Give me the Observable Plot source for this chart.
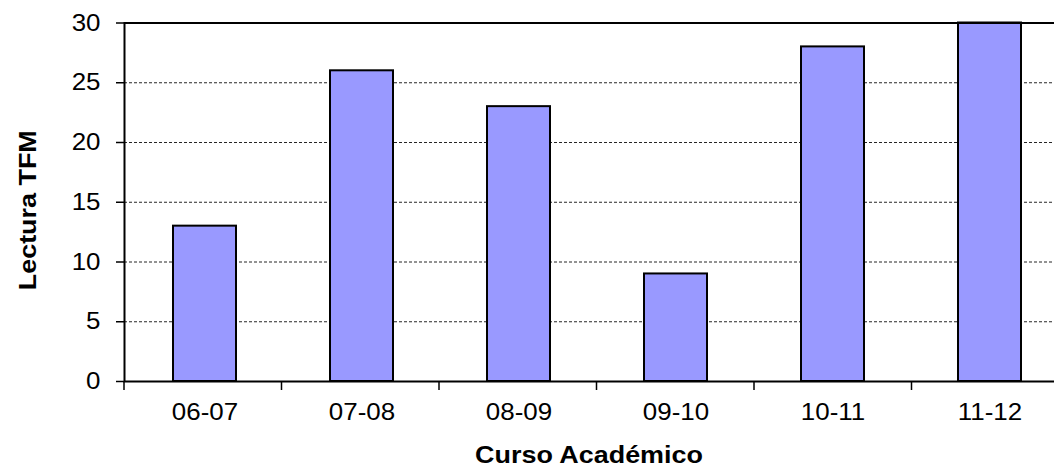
<!DOCTYPE html>
<html><head><meta charset="utf-8">
<script src="https://cdn.jsdelivr.net/npm/d3@7"></script>
<script src="https://cdn.jsdelivr.net/npm/@observablehq/plot@0.6"></script>
<style>
html,body{margin:0;padding:0;background:#fff;overflow:hidden;}
#chart{width:1054px;height:469px;overflow:hidden;}
#chart svg{max-width:none !important;display:block;}
</style></head><body>
<div id="chart"></div>
<script>
const categories = ["06-07", "07-08", "08-09", "09-10", "10-11", "11-12"];
const values = [13, 26, 23, 9, 28, 30];
const yTicks = [0, 5, 10, 15, 20, 25, 30];
const gridTicks = [5, 10, 15, 20, 25];
const xLabel = "Curso Académico";
const yLabel = "Lectura TFM";

const data = categories.map((c, i) => ({curso: c, lecturas: values[i]}));

const W = 1075, H = 469;
const M = {top: 22.5, right: 6, bottom: 88, left: 124};
const padIn = 0.6, padOut = 0.3;

// ticks at the category boundaries on the x axis
const boundaryTicks = (index, scales, vals, dims) => {
  const xs = d3.scaleBand().domain(categories)
    .range([dims.marginLeft, dims.width - dims.marginRight])
    .paddingInner(padIn).paddingOuter(padOut);
  const step = xs.step();
  const y0 = dims.height - dims.marginBottom;
  const g = d3.create("svg:g");
  const xsPos = categories.map(c => xs(c) - step * padIn / 2);
  xsPos.push(xs(categories[categories.length - 1]) + xs.bandwidth() + step * padIn / 2);
  g.selectAll("line").data(xsPos).join("line")
    .attr("x1", d => d).attr("x2", d => d)
    .attr("y1", y0).attr("y2", y0 + 9)
    .attr("stroke", "#000").attr("stroke-width", 1.5);
  return g.node();
};

const chart = Plot.plot({
  width: W, height: H,
  marginTop: M.top, marginRight: M.right, marginBottom: M.bottom, marginLeft: M.left,
  style: {fontFamily: "'Liberation Sans', Arial, sans-serif", fontSize: "24px", color: "#000", background: "#fff", maxWidth: "none"},
  x: {domain: categories, paddingInner: padIn, paddingOuter: padOut, label: null},
  y: {domain: [0, 30], label: null},
  marks: [
    Plot.ruleY(gridTicks, {stroke: "#000", strokeWidth: 1, strokeDasharray: "3,2", strokeOpacity: 0.85}),
    Plot.barY(data, {x: "curso", y: "lecturas", fill: "#9999ff", stroke: "#000", strokeWidth: 2}),
    Plot.frame({stroke: "#000", strokeWidth: 2}),
    Plot.axisY(yTicks, {tickSize: 8, tickPadding: 16, label: null, stroke: "#000", strokeWidth: 1.5, strokeOpacity: 1, fill: "#000", fontSize: 24}),
    Plot.axisX({tickSize: 0, tickPadding: 21, label: null, fill: "#000", fontSize: 24}),
    boundaryTicks,
    Plot.text([xLabel], {frameAnchor: "bottom", text: d => d, dx: -8, dy: 74, fontWeight: "bold", fontSize: 23, textAnchor: "middle", lineAnchor: "middle", fill: "#000", className: "lbl"}),
    Plot.text([yLabel], {frameAnchor: "left", text: d => d, dx: -96, dy: 8, rotate: -90, fontWeight: "bold", fontSize: 23, textAnchor: "middle", lineAnchor: "middle", fill: "#000", className: "lbl"})
  ]
});

document.getElementById("chart").appendChild(chart);

// widen glyphs slightly to match the reference typography
chart.querySelectorAll("text").forEach(t => {
  const isLabel = t.closest(".lbl") !== null;
  const f = isLabel ? 1.17 : 1.08;
  const len = t.getComputedTextLength();
  if (len > 0) {
    t.setAttribute("textLength", len * f);
    t.setAttribute("lengthAdjust", "spacingAndGlyphs");
  }
});
</script>
</body></html>
